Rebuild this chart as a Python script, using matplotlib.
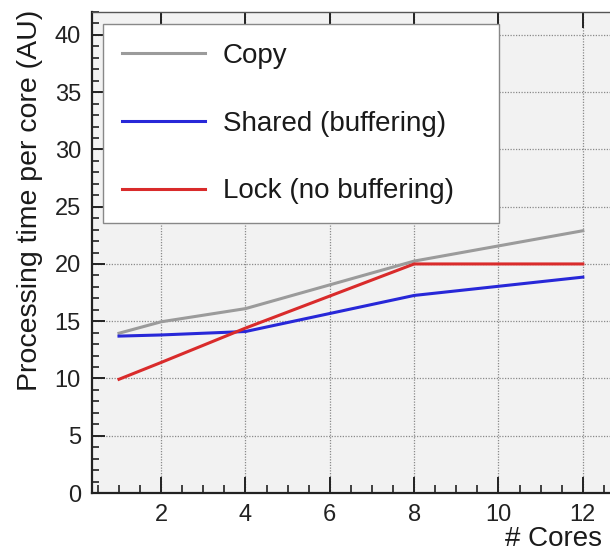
import matplotlib
matplotlib.use("Agg")
import matplotlib.pyplot as plt
from matplotlib.ticker import MultipleLocator

plt.rcParams['font.family'] = ['Liberation Sans', 'DejaVu Sans']

cores = [1, 2, 4, 8, 12]
copy_vals = [13.95, 14.95, 16.1, 20.25, 22.9]
shared_vals = [13.7, 13.8, 14.1, 17.25, 18.85]
lock_vals = [9.93, 11.4, 14.4, 20.0, 20.0]
labels = ["Copy", "Shared (buffering)", "Lock (no buffering)"]
xticks = [2, 4, 6, 8, 10, 12]
yticks = [0, 5, 10, 15, 20, 25, 30, 35, 40]

W, H = 610, 554
fig = plt.figure(figsize=(W / 100, H / 100), dpi=100)
fig.patch.set_facecolor('white')
ax = fig.add_axes([92 / W, (H - 493) / H, (625 - 92) / W, (493 - 12) / H])
ax.set_facecolor('#f2f2f2')

ax.plot(cores, copy_vals, color='#9b9b9b', lw=2.2, label=labels[0], solid_joinstyle='round')
ax.plot(cores, shared_vals, color='#2828d8', lw=2.2, label=labels[1], solid_joinstyle='round')
ax.plot(cores, lock_vals, color='#d92b2b', lw=2.2, label=labels[2], solid_joinstyle='round')

ax.set_xlim(0.36, 13.0)
ax.set_ylim(0, 42)
ax.set_xticks(xticks)
ax.set_xticklabels([str(t) for t in xticks])
ax.set_yticks(yticks)
ax.set_yticklabels([str(t) for t in yticks])
ax.xaxis.set_minor_locator(MultipleLocator(0.5))
ax.yaxis.set_minor_locator(MultipleLocator(1))

ax.grid(True, which='major', linestyle=(0, (1, 1.2)), color='#8a8a8a', lw=0.9)
ax.set_axisbelow(True)

ax.tick_params(axis='x', which='major', direction='in', length=11.5, width=1.4,
               labelsize=17, pad=8, top=True, colors='#222222')
ax.tick_params(axis='x', which='minor', direction='in', length=5.8, width=1.2, top=False,
               colors='#222222')
ax.tick_params(axis='y', which='major', direction='in', length=9.4, width=1.4,
               labelsize=17, pad=8, right=False, colors='#222222')
ax.tick_params(axis='y', which='minor', direction='in', length=5, width=1.2, right=False,
               colors='#222222')

for s in ['left', 'bottom']:
    ax.spines[s].set_linewidth(1.6)
    ax.spines[s].set_color('#222222')
ax.spines['top'].set_linewidth(1.0)
ax.spines['top'].set_color('#555555')
ax.spines['right'].set_visible(False)

leg = ax.legend(loc='upper left', bbox_to_anchor=(11 / 533, 0, 396 / 533, (493 - 24) / 481),
                mode='expand', borderaxespad=0, fontsize=20, handlelength=2.99,
                handletextpad=0.65, labelspacing=1.5, borderpad=0.68,
                fancybox=False, framealpha=1, edgecolor='#888888')
leg.get_frame().set_linewidth(1.0)
for t in leg.get_texts():
    t.set_color('#1a1a1a')

fig.text(30 / W, 1 - 200 / H, "Processing time per core (AU)", rotation=90,
         ha='center', va='center', fontsize=20.5, color='#1a1a1a')
fig.text(505 / W, 1 - 546 / H, "# Cores", ha='left', va='baseline',
         fontsize=20, color='#1a1a1a')

fig.savefig("out.png", dpi=100)
